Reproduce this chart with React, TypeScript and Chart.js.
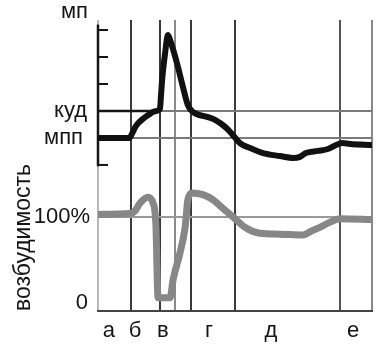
import { useEffect, useRef } from "react";
import { Chart, registerables } from "chart.js";

Chart.register(...registerables);

// Time axis in arbitrary units (0 … 100)
const potentialTime = [0, 11.5, 12.6, 13.6, 14.8, 16.3, 18.2, 20.8, 22.6, 23.0, 23.4, 24.5, 25.5, 26.3, 28.8, 31.0, 32.8, 34.7, 39.8, 42.7, 46.4, 48.9, 51.8, 55.5, 60.2, 66.4, 71.2, 73.7, 75.9, 80.3, 83.9, 86.9, 89.1, 92.0, 100];
// Membrane potential, in threshold steps (МПП = 0, КУД = 1)
const potentialValues = [0, 0, 0.2, 0.4, 0.56, 0.7, 0.84, 0.99, 1.07, 1.59, 2.15, 3.15, 3.81, 3.63, 2.78, 1.89, 1.22, 0.96, 0.78, 0.67, 0.41, 0.15, -0.19, -0.37, -0.56, -0.67, -0.74, -0.7, -0.56, -0.48, -0.41, -0.26, -0.19, -0.22, -0.26];

const excitabilityTime = [0, 11.7, 13.5, 15.3, 18.2, 20.1, 21.2, 21.5, 21.9, 26.3, 27.4, 29.9, 31.8, 32.8, 34.3, 38.3, 42.0, 45.6, 49.3, 53.6, 59.1, 66.4, 74.8, 78.1, 81.0, 84.7, 88.3, 100];
// Excitability, % of resting level
const excitabilityValues = [103, 104, 107, 116, 123, 116, 85, 44, 6, 6, 27, 58, 88, 120, 128, 126, 120, 110, 100, 88, 81, 80, 79, 84, 88, 94, 98, 97];

const phaseLabels = ["а", "б", "в", "г", "д", "е"];
const phaseLabelPos = [4.0, 13.5, 23.7, 40.5, 63.1, 93.1];
const phaseBounds = [0, 12.0, 22.6, 28.1, 33.9, 50.0, 88.3, 100];
const boundColors = ["#b8b8b8", "#3a3a3a", "#3a3a3a", "#8a8a8a", "#3a3a3a", "#3a3a3a", "#555555", "#888888"];

const potentialLevels = [0, 1]; // МПП, КУД
const potentialTicks = [-1, 2, 3, 4];
const excitabilityLevels = [100];

const FONT = "'Liberation Sans', Arial, sans-serif";

const annotations = {
  id: "annotations",
  beforeDatasetsDraw(chart: any) {
    const { ctx, chartArea, scales } = chart;
    const y = scales.y;
    const y2 = scales.y2;
    const x = scales.x;
    const L = chartArea.left;
    ctx.save();
    ctx.strokeStyle = "#151515";
    ctx.lineWidth = 2.5;
    ctx.beginPath();
    ctx.moveTo(L, y.getPixelForValue(4.2));
    ctx.lineTo(L, y.getPixelForValue(-1.05));
    ctx.stroke();
    ctx.lineWidth = 2;
    potentialTicks.forEach((v) => {
      const py = y.getPixelForValue(v);
      ctx.beginPath();
      ctx.moveTo(L, py);
      ctx.lineTo(L + 10, py);
      ctx.stroke();
    });
    ctx.lineWidth = 2.5;
    const pk = y.getPixelForValue(1);
    ctx.beginPath();
    ctx.moveTo(L, pk);
    ctx.lineTo(x.getPixelForValue(phaseBounds[2]), pk);
    ctx.stroke();

    ctx.fillStyle = "#151515";
    ctx.font = `22px ${FONT}`;
    ctx.textAlign = "right";
    ctx.textBaseline = "alphabetic";
    ctx.fillText("мп", L - 10, chartArea.top - 2);
    ctx.textBaseline = "middle";
    ctx.fillText("куд", L - 11, y.getPixelForValue(1));
    ctx.fillText("мпп", L - 15, y.getPixelForValue(0));
    ctx.fillText("100%", L - 8, y2.getPixelForValue(100));
    ctx.fillText("0", L - 10, y2.getPixelForValue(0));
    ctx.restore();
  },
};

export default function App() {
  const ref = useRef<HTMLCanvasElement>(null);
  useEffect(() => {
    const chart = new Chart(ref.current!, {
      type: "line",
      data: {
        datasets: [
          {
            data: potentialTime.map((t, i) => ({ x: t, y: potentialValues[i] })),
            yAxisID: "y",
            xAxisID: "x",
            borderColor: "#111111",
            borderWidth: 6,
            pointRadius: 0,
            cubicInterpolationMode: "monotone",
            borderJoinStyle: "round",
            borderCapStyle: "round",
          },
          {
            data: excitabilityTime.map((t, i) => ({ x: t, y: excitabilityValues[i] })),
            yAxisID: "y2",
            xAxisID: "x",
            borderColor: "#878787",
            borderWidth: 7,
            pointRadius: 0,
            cubicInterpolationMode: "monotone",
            borderJoinStyle: "round",
            borderCapStyle: "round",
          },
        ],
      },
      options: {
        responsive: false,
        animation: false,
        layout: { padding: { top: 20, right: 11, bottom: 0, left: 0 } },
        plugins: { legend: { display: false }, tooltip: { enabled: false } },
        scales: {
          x: {
            type: "linear",
            position: "bottom",
            min: 0,
            max: 100,
            afterBuildTicks: (s: any) => {
              s.ticks = phaseLabelPos.map((v) => ({ value: v }));
            },
            afterFit: (s: any) => {
              s.height = 46;
            },
            ticks: {
              autoSkip: false,
              maxRotation: 0,
              padding: 7,
              color: "#151515",
              font: { family: FONT, size: 22 },
              callback: (_v: any, i: number) => phaseLabels[i],
            },
            grid: { display: false, drawTicks: false },
            border: { display: true, color: "#444", width: 2 },
          },
          xg: {
            type: "linear",
            position: "top",
            min: 0,
            max: 100,
            afterBuildTicks: (s: any) => {
              s.ticks = phaseBounds.map((v) => ({ value: v }));
            },
            afterFit: (s: any) => {
              s.height = 0;
            },
            ticks: { display: false },
            grid: {
              drawTicks: false,
              lineWidth: 2,
              color: (c: any) => boundColors[c.index] ?? "#555",
            },
            border: { display: false },
          },
          y: {
            type: "linear",
            position: "left",
            min: -6.41,
            max: 4.37,
            afterBuildTicks: (s: any) => {
              s.ticks = potentialLevels.map((v) => ({ value: v }));
            },
            afterFit: (s: any) => {
              s.width = 98;
            },
            ticks: { display: false },
            grid: { drawTicks: false, lineWidth: 2, color: "#7a7a7a" },
            border: { display: false },
            title: {
              display: true,
              text: "возбудимость",
              align: "start",
              color: "#151515",
              font: { family: FONT, size: 23 },
              padding: { top: 10, bottom: 0 },
            },
          },
          y2: {
            type: "linear",
            position: "left",
            min: -9.3,
            max: 329,
            afterBuildTicks: (s: any) => {
              s.ticks = excitabilityLevels.map((v) => ({ value: v }));
            },
            afterFit: (s: any) => {
              s.width = 0;
            },
            ticks: { display: false },
            grid: { drawTicks: false, lineWidth: 2, color: "#9a9a9a" },
            border: { display: false },
          },
        },
      },
      plugins: [annotations],
    } as any);
    return () => chart.destroy();
  }, []);
  return (
    <canvas
      ref={ref}
      width={383}
      height={357}
      style={{ display: "block", position: "fixed", left: 0, top: 0 }}
    />
  );
}
